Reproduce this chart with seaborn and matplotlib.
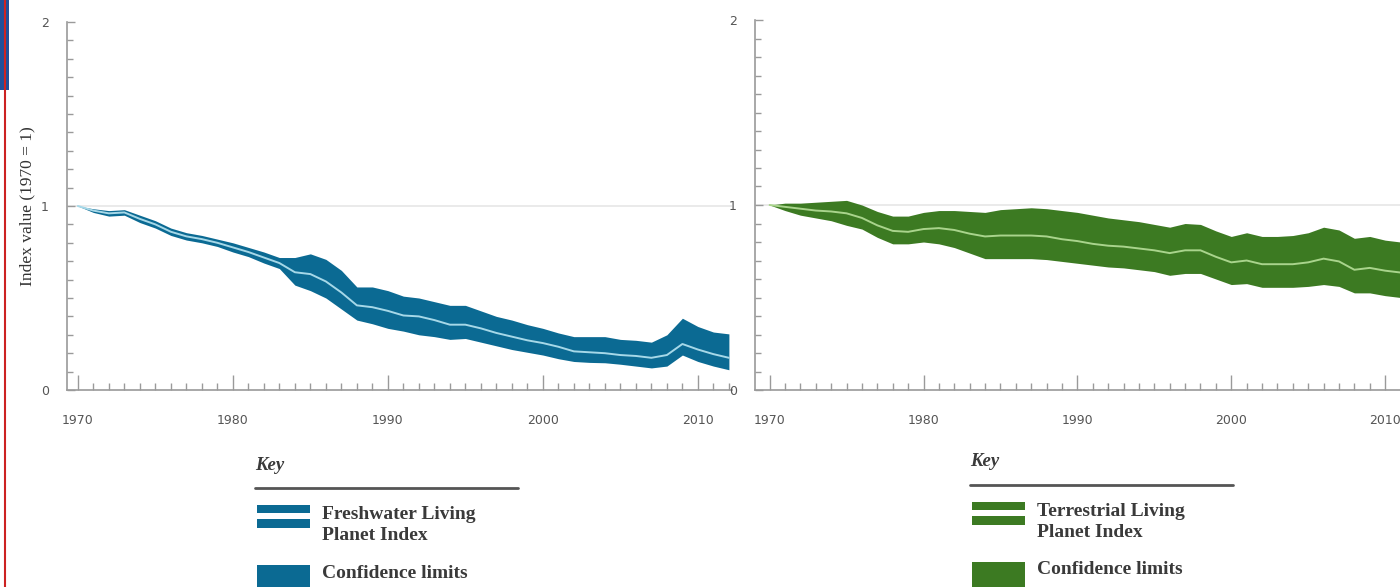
import numpy as np
import pandas as pd
import matplotlib
matplotlib.use("Agg")
import matplotlib.pyplot as plt
import seaborn as sns
from matplotlib.patches import Rectangle
from matplotlib.lines import Line2D
from matplotlib.ticker import MultipleLocator

# =========================================================
# DATA
# =========================================================
years = list(range(1970, 2013))

fresh_index = [1.00, 0.975, 0.96, 0.965, 0.93, 0.90, 0.86, 0.835, 0.82, 0.80,
               0.775, 0.75, 0.72, 0.69, 0.64, 0.63, 0.59, 0.53, 0.46, 0.45,
               0.43, 0.405, 0.40, 0.38, 0.355, 0.355, 0.335, 0.31, 0.29, 0.27,
               0.255, 0.235, 0.21, 0.205, 0.20, 0.19, 0.185, 0.175, 0.19, 0.25,
               0.22, 0.195, 0.175]
fresh_upper = [1.00, 0.985, 0.975, 0.98, 0.95, 0.92, 0.88, 0.855, 0.84, 0.82,
               0.80, 0.775, 0.75, 0.72, 0.72, 0.74, 0.71, 0.65, 0.56, 0.56,
               0.54, 0.51, 0.50, 0.48, 0.46, 0.46, 0.43, 0.40, 0.38, 0.355,
               0.335, 0.31, 0.29, 0.29, 0.29, 0.275, 0.27, 0.26, 0.30, 0.39,
               0.345, 0.315, 0.305]
fresh_lower = [1.00, 0.965, 0.945, 0.95, 0.91, 0.88, 0.84, 0.815, 0.80, 0.78,
               0.75, 0.725, 0.69, 0.66, 0.57, 0.54, 0.50, 0.44, 0.38, 0.36,
               0.335, 0.32, 0.30, 0.29, 0.275, 0.28, 0.26, 0.24, 0.22, 0.205,
               0.19, 0.17, 0.155, 0.15, 0.148, 0.14, 0.13, 0.12, 0.13, 0.19,
               0.155, 0.13, 0.11]

terr_index = [1.00, 0.99, 0.98, 0.97, 0.965, 0.955, 0.93, 0.89, 0.86, 0.855,
              0.87, 0.875, 0.865, 0.845, 0.83, 0.835, 0.835, 0.835, 0.83, 0.815,
              0.805, 0.79, 0.78, 0.775, 0.765, 0.755, 0.74, 0.755, 0.755, 0.72,
              0.69, 0.70, 0.68, 0.68, 0.68, 0.69, 0.71, 0.695, 0.65, 0.66,
              0.645, 0.635, 0.625]
terr_upper = [1.00, 1.01, 1.01, 1.015, 1.02, 1.025, 1.00, 0.965, 0.94, 0.94,
              0.96, 0.97, 0.97, 0.965, 0.96, 0.975, 0.98, 0.985, 0.98, 0.97,
              0.96, 0.945, 0.93, 0.92, 0.91, 0.895, 0.88, 0.90, 0.895, 0.86,
              0.83, 0.85, 0.83, 0.83, 0.835, 0.85, 0.88, 0.865, 0.82, 0.83,
              0.81, 0.80, 0.79]
terr_lower = [1.00, 0.97, 0.945, 0.93, 0.915, 0.89, 0.87, 0.825, 0.79, 0.79,
              0.80, 0.79, 0.77, 0.74, 0.71, 0.71, 0.71, 0.71, 0.705, 0.695,
              0.685, 0.675, 0.665, 0.66, 0.65, 0.64, 0.62, 0.63, 0.63, 0.60,
              0.57, 0.575, 0.555, 0.555, 0.555, 0.56, 0.57, 0.56, 0.525, 0.525,
              0.51, 0.50, 0.49]

fresh_name = "Freshwater Living\nPlanet Index"
terr_name = "Terrestrial Living\nPlanet Index"
ci_name = "Confidence limits"
y_label = "Index value (1970 = 1)"

BLUE = "#0b6a93"
BLUE_LINE = "#a6d8e8"
GREEN = "#3c7a22"
GREEN_LINE = "#a9d48c"

df_fresh = pd.DataFrame({"year": years, "index": fresh_index,
                         "upper": fresh_upper, "lower": fresh_lower})
df_terr = pd.DataFrame({"year": years, "index": terr_index,
                        "upper": terr_upper, "lower": terr_lower})

# =========================================================
# STYLE
# =========================================================
sns.set_theme(style="white")
plt.rcParams["font.family"] = ["DejaVu Sans"]

W, H = 1400, 587
fig = plt.figure(figsize=(14, 5.87), dpi=100)


def panel(rect, df, fill, line, xlim):
    ax = fig.add_axes(rect)
    ax.axhline(1, color="#e6e6e6", lw=1.2, zorder=0)
    ax.fill_between(df["year"], df["lower"], df["upper"], color=fill, lw=0, zorder=2)
    sns.lineplot(data=df, x="year", y="index", color=line, lw=1.4, ax=ax, zorder=3)
    ax.set_xlim(*xlim)
    ax.set_ylim(0, 2)
    ax.set_xticks([1970, 1980, 1990, 2000, 2010])
    ax.xaxis.set_minor_locator(MultipleLocator(1))
    ax.set_yticks([0, 1, 2])
    ax.yaxis.set_minor_locator(MultipleLocator(0.1))
    ax.tick_params(axis="x", which="major", direction="in", length=11, width=1,
                   bottom=True, color="#9a9a9a", labelsize=9, labelcolor="#555555",
                   pad=17)
    ax.tick_params(axis="x", which="minor", direction="in", length=5, width=1,
                   bottom=True, color="#9a9a9a")
    ax.tick_params(axis="y", which="major", direction="in", length=6, width=1,
                   left=True, color="#9a9a9a", labelsize=9, labelcolor="#555555",
                   pad=13)
    ax.tick_params(axis="y", which="minor", direction="in", length=4, width=1,
                   left=True, color="#9a9a9a")
    for s in ["top", "right"]:
        ax.spines[s].set_visible(False)
    for s in ["left", "bottom"]:
        ax.spines[s].set_color("#9a9a9a")
        ax.spines[s].set_linewidth(1.2)
    ax.set_xlabel("")
    ax.set_ylabel("")
    return ax


ax1 = panel([67 / W, 197 / H, 665 / W, 368 / H], df_fresh, BLUE, BLUE_LINE,
            (1969.3, 2012.2))
ax1.set_ylabel(y_label, family=["Liberation Serif"], fontsize=12.5,
               color="#333333")
ax1.yaxis.set_label_coords(-0.047, 0.5)

ax2 = panel([755 / W, 197 / H, 664 / W, 370 / H], df_terr, GREEN, GREEN_LINE,
            (1969.05, 2012.2))


def legend(x0, y0, fill, name):
    # y0 = pixel row of the "Key" text centre
    serif = ["Liberation Serif", "DejaVu Serif"]
    fig.text(x0 / W, 1 - y0 / H, "Key", family=serif, style="italic",
             weight="bold", fontsize=13.5, color="#3a3a3a", va="center")
    fig.add_artist(Line2D([x0 / W, (x0 + 263) / W],
                          [1 - (y0 + 23) / H, 1 - (y0 + 23) / H],
                          color="#555555", lw=2))
    px = x0 + 2
    fig.add_artist(Rectangle((px / W, 1 - (y0 + 48) / H), 53 / W, 8 / H,
                             color=fill, lw=0))
    fig.add_artist(Rectangle((px / W, 1 - (y0 + 63) / H), 53 / W, 9 / H,
                             color=fill, lw=0))
    fig.text((x0 + 67) / W, 1 - (y0 + 60) / H, name, family=serif,
             weight="bold", fontsize=14, color="#3a3a3a", va="center",
             linespacing=1.3)
    fig.add_artist(Rectangle((px / W, 0), 53 / W, (H - (y0 + 100)) / H,
                             color=fill, lw=0))
    fig.text((x0 + 67) / W, 1 - (y0 + 108) / H, ci_name, family=serif,
             weight="bold", fontsize=14, color="#3a3a3a", va="center")


legend(255, 465, BLUE, fresh_name)
legend(970, 462, GREEN, terr_name)

# screenshot edge artifacts
fig.add_artist(Rectangle((0, 1 - 90 / H), 9 / W, 90 / H, color="#1f4f9a", lw=0))
fig.add_artist(Line2D([5 / W, 5 / W], [0, 1], color="#cc2222", lw=1.5))

plt.savefig("out.png", dpi=100)
